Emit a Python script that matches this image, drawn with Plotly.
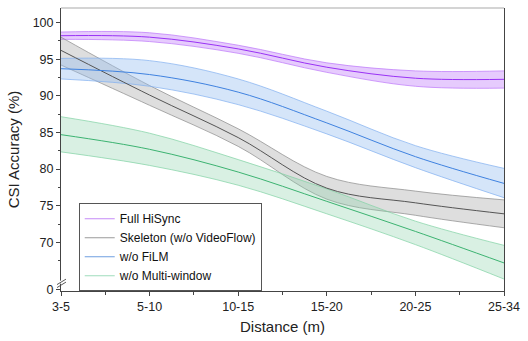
import plotly.graph_objects as go

categories = ["3-5", "5-10", "10-15", "15-20", "20-25", "25-34"]

full_mean = [98.2, 98.0, 96.4, 93.9, 92.4, 92.25]
full_upper = [98.7, 98.6, 96.9, 94.5, 93.4, 93.4]
full_lower = [97.7, 97.4, 95.8, 93.2, 91.3, 91.05]

skel_mean = [96.2, 90.1, 84.3, 77.4, 75.4, 73.9]
skel_upper = [98.0, 91.4, 85.5, 79.0, 77.0, 75.8]
skel_lower = [94.2, 88.7, 83.1, 75.9, 73.7, 72.0]

film_mean = [93.7, 92.9, 90.5, 86.3, 81.7, 78.05]
film_upper = [95.1, 94.8, 92.3, 87.9, 83.2, 80.1]
film_lower = [92.3, 91.3, 88.8, 84.8, 80.2, 76.1]

mw_mean = [84.7, 82.7, 79.6, 75.6, 71.5, 67.2]
mw_upper = [87.15, 84.9, 81.3, 77.3, 72.9, 69.6]
mw_lower = [82.35, 80.5, 77.8, 73.9, 69.7, 65.0]

y_tick_vals = [63.6, 70, 75, 80, 85, 90, 95, 100]
y_tick_text = ["0", "70", "75", "80", "85", "90", "95", "100"]
y_minor_vals = [67.5, 72.5, 77.5, 82.5, 87.5, 92.5, 97.5]

series = [
    ("Full HiSync", full_mean, full_upper, full_lower,
     "#9a32f5", "rgba(200,140,250,0.45)", "rgba(190,120,250,0.9)", "#c58af7"),
    ("Skeleton (w/o VideoFlow)", skel_mean, skel_upper, skel_lower,
     "#555555", "rgba(160,160,160,0.35)", "rgba(140,140,140,0.9)", "#9a9a9a"),
    ("w/o FiLM", film_mean, film_upper, film_lower,
     "#3f82e0", "rgba(150,190,240,0.4)", "rgba(130,175,240,0.9)", "#6f9fe0"),
    ("w/o Multi-window", mw_mean, mw_upper, mw_lower,
     "#3cb371", "rgba(140,210,170,0.33)", "rgba(130,210,165,0.9)", "#9fdcbc"),
]

x_idx = list(range(len(categories)))

fig = go.Figure()
for name, m, u, l, lc, fc, ec, legc in series:
    fig.add_trace(go.Scatter(x=x_idx, y=u, mode="lines",
                             line=dict(color=ec, width=0.8, shape="spline"),
                             showlegend=False, hoverinfo="skip"))
    fig.add_trace(go.Scatter(x=x_idx, y=l, mode="lines", fill="tonexty",
                             fillcolor=fc,
                             line=dict(color=ec, width=0.8, shape="spline"),
                             showlegend=False, hoverinfo="skip"))
for name, m, u, l, lc, fc, ec, legc in series:
    fig.add_trace(go.Scatter(x=x_idx, y=m, mode="lines", name=name,
                             showlegend=False,
                             line=dict(color=lc, width=1.0, shape="spline")))
for name, m, u, l, lc, fc, ec, legc in series:
    fig.add_trace(go.Scatter(x=[None], y=[None], mode="lines", name=name,
                             line=dict(color=legc, width=1.2)))

font_family = "Arial"

fig.update_layout(
    width=528, height=341,
    margin=dict(l=61, r=21, t=8, b=46),
    plot_bgcolor="white", paper_bgcolor="white",
    font=dict(family=font_family, size=12, color="#222"),
    legend=dict(x=0.04, y=0.31, xanchor="left", yanchor="top",
                traceorder="normal",
                bgcolor="white", bordercolor="#555", borderwidth=1,
                font=dict(size=12, color="#111"), tracegroupgap=0,
                itemwidth=30),
    xaxis=dict(
        range=[0, 5], tickmode="array", tickvals=x_idx, ticktext=categories,
        showgrid=False, zeroline=False, showline=True, linecolor="#444",
        linewidth=1, mirror=False, ticks="outside", ticklen=4,
        tickcolor="#444", tickfont=dict(size=12.5, color="#222"),
        minor=dict(tickvals=[0.5, 1.5, 2.5, 3.5, 4.5], ticks="outside",
                   ticklen=2.5, tickcolor="#444"),
        title=dict(text="Distance (m)", font=dict(size=15, color="#222"),
                   standoff=8),
    ),
    yaxis=dict(
        range=[63.37, 101.98], tickmode="array", tickvals=y_tick_vals,
        ticktext=y_tick_text, showgrid=False, zeroline=False, showline=True,
        linecolor="#444", linewidth=1, mirror=True, ticks="outside",
        ticklen=4, tickcolor="#444", tickfont=dict(size=12.5, color="#222"),
        minor=dict(tickvals=y_minor_vals, ticks="outside", ticklen=2.5,
                   tickcolor="#444"),
        title=dict(text="CSI Accuracy (%)", font=dict(size=15, color="#222"),
                   standoff=9),
    ),
)

# top border (lighter gray)
fig.add_shape(type="line", xref="paper", yref="paper", x0=0, x1=1, y0=1, y1=1,
              line=dict(color="#aaaaaa", width=1.2))
# axis break gap and marks
fig.add_shape(type="rect", xref="paper", yref="paper",
              x0=-0.004, x1=0.004, y0=(295 - 287.5) / 287, y1=(295 - 284.5) / 287,
              fillcolor="white", line=dict(width=0))
for y0p, y1p in [(288.5, 283.0), (291.5, 286.0)]:
    fig.add_shape(type="line", xref="paper", yref="paper",
                  x0=(57 - 61) / 446, x1=(66 - 61) / 446,
                  y0=(295 - y0p) / 287, y1=(295 - y1p) / 287,
                  line=dict(color="#444", width=0.9))

fig.write_html("out.html")
